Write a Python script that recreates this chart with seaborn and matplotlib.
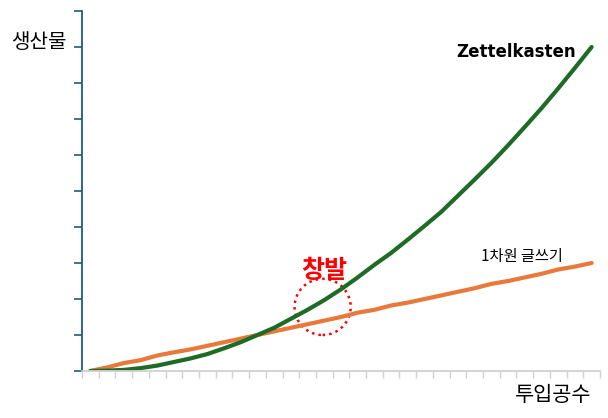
import matplotlib
matplotlib.use('Agg')
import matplotlib.pyplot as plt
import matplotlib.patches as mpatches
import seaborn as sns
import pandas as pd

# 투입공수 (step) vs 생산물
steps = list(range(31))
zettel = [0, 0.01, 0.03, 0.08, 0.15, 0.25, 0.35, 0.47, 0.63, 0.8, 1.0,
          1.2, 1.45, 1.7, 1.97, 2.27, 2.6, 2.95, 3.28, 3.65, 4.03,
          4.42, 4.87, 5.32, 5.78, 6.27, 6.78, 7.3, 7.85, 8.42, 9.0]
linear = [0, 0.1, 0.22, 0.3, 0.43, 0.52, 0.6, 0.7, 0.8, 0.9, 1.0,
          1.1, 1.2, 1.3, 1.4, 1.5, 1.62, 1.7, 1.82, 1.9, 2.0,
          2.1, 2.2, 2.3, 2.42, 2.5, 2.6, 2.7, 2.82, 2.9, 3.0]
series_names = ['1차원 글쓰기', 'Zettelkasten']

df = pd.DataFrame({
    'step': steps * 2,
    'value': linear + zettel,
    'series': [series_names[0]] * len(steps) + [series_names[1]] * len(steps),
})

sns.set_style('white')
plt.rcParams['font.family'] = ['Noto Sans CJK KR', 'DejaVu Sans']
plt.rcParams['text.color'] = 'black'

fig = plt.figure(figsize=(6.08, 4.18), dpi=100)
ax = fig.add_axes([82 / 608, 47 / 418, 518 / 608, 360 / 418])

sns.lineplot(data=df, x='step', y='value', hue='series',
             palette={series_names[0]: '#E8793A', series_names[1]: '#1D6B24'},
             linewidth=3.0, legend=False, ax=ax)

ax.set_xlim(-0.5, 30.5)
ax.set_ylim(0, 10)
ax.set_xlabel('')
ax.set_ylabel('')

ax.set_yticks(range(0, 11))
ax.set_yticklabels([])
ax.set_xticks([k - 0.5 for k in range(32)])
ax.set_xticklabels([])
ax.tick_params(axis='y', direction='out', length=6, width=1.2, color='#1F5C7A', left=True)
ax.tick_params(axis='x', direction='out', length=5, width=1, color='#D0D0D0', bottom=True)

for s in ['top', 'right']:
    ax.spines[s].set_visible(False)
ax.spines['left'].set_color('#1F5C7A')
ax.spines['left'].set_linewidth(1.3)
ax.spines['bottom'].set_color('#D0D0D0')
ax.spines['bottom'].set_linewidth(1.3)

# labels
fig.text(11 / 608, 1 - 42 / 418, '생산물', fontsize=14.5, va='center', ha='left')
fig.text(591 / 608, 1 - 395 / 418, '투입공수', fontsize=15, va='center', ha='right')
ax.text(29.05, 8.62, 'Zettelkasten', fontsize=12, fontweight='bold',
        ha='right', va='bottom', family=['DejaVu Sans'])
ax.text(28.3, 2.95, '1차원 글쓰기', fontsize=11, ha='right', va='bottom')
ax.text(14.0, 2.45, '창발', fontsize=18, fontweight='bold', color='#FF0000',
        ha='center', va='bottom')

circle = mpatches.Ellipse((13.9, 1.78), width=3.36, height=1.56, fill=False,
                          edgecolor='#FF0000', linestyle=':', linewidth=1.8)
ax.add_patch(circle)

fig.savefig('out.png', dpi=100)
